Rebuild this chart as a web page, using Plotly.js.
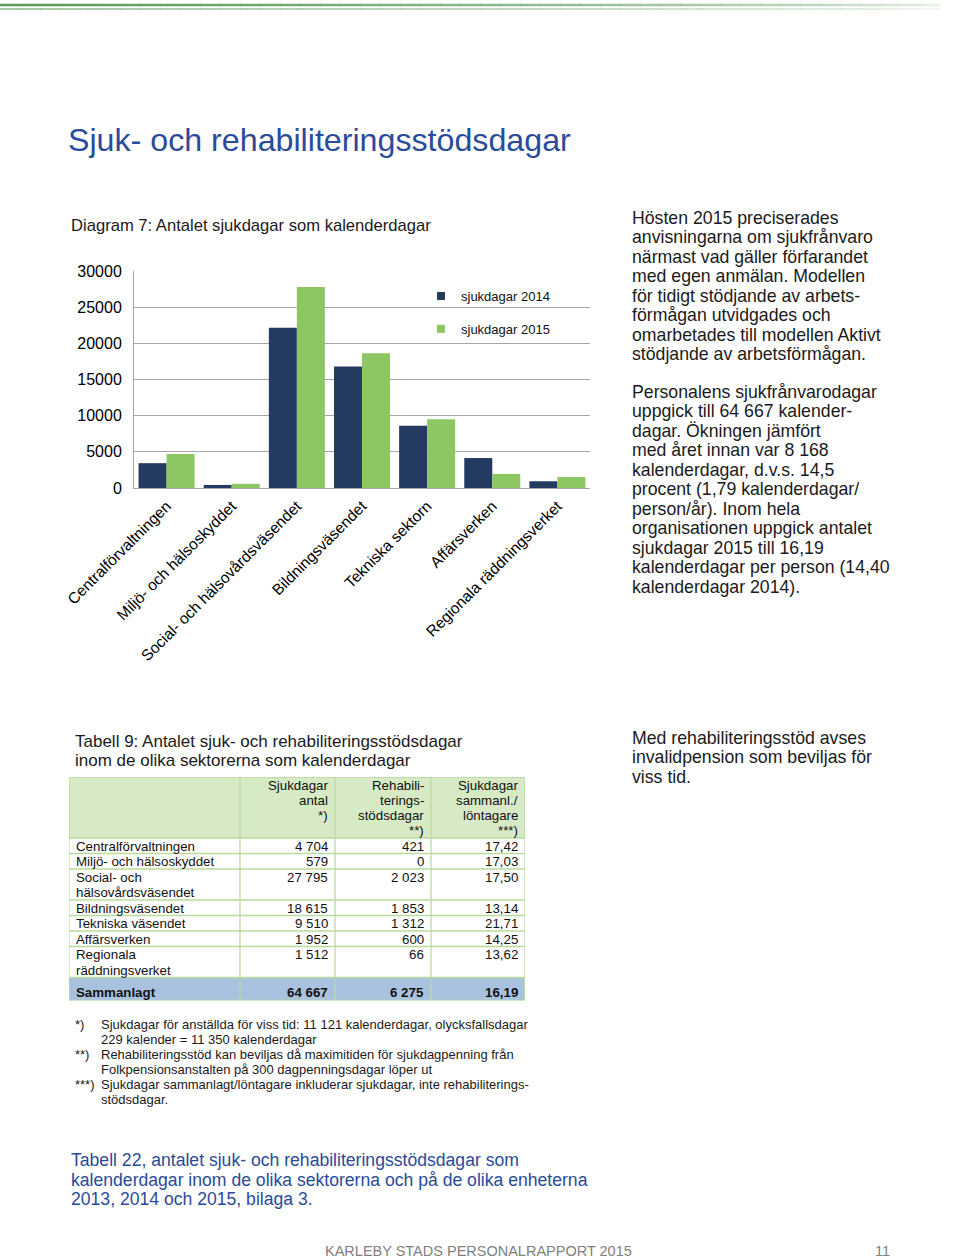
<!DOCTYPE html>
<html><head><meta charset="utf-8">
<script src="https://cdn.plot.ly/plotly-3.0.1.min.js"></script>
<style>html,body{margin:0;padding:0;background:#fff}#chart{width:960px;height:1258px}</style>
</head><body><div id="chart"></div>
<script>
// ---------------- data ----------------
const sectors = ['Centralförvaltningen','Miljö- och hälsoskyddet','Social- och hälsovårdsväsendet','Bildningsväsendet','Tekniska sektorn','Affärsverken','Regionala räddningsverket'];
const sick2014 = [3430, 420, 22150, 16800, 8590, 4140, 930];
const sick2015 = [4704, 579, 27795, 18615, 9510, 1952, 1512];
const seriesNames = ['sjukdagar 2014','sjukdagar 2015'];
const yTickVals = [0, 5000, 10000, 15000, 20000, 25000, 30000];

const tableRowLabels = [['Centralförvaltningen'],['Miljö- och hälsoskyddet'],['Social- och','hälsovårdsväsendet'],['Bildningsväsendet'],['Tekniska väsendet'],['Affärsverken'],['Regionala','räddningsverket']];
const tableSickDays = ['4 704','579','27 795','18 615','9 510','1 952','1 512'];
const tableRehabDays = ['421','0','2 023','1 853','1 312','600','66'];
const tableSickPerEmployee = ['17,42','17,03','17,50','13,14','21,71','14,25','13,62'];
const tableHeaders = [[], ['Sjukdagar','antal','*)'], ['Rehabili-','terings-','stödsdagar','**)'], ['Sjukdagar','sammanl./','löntagare','***)']];
const tableTotal = ['Sammanlagt','64 667','6 275','16,19'];

const pageTitle = 'Sjuk- och rehabiliteringsstödsdagar';
const chartTitle = 'Diagram 7: Antalet sjukdagar som kalenderdagar';
const para1 = ['Hösten 2015 preciserades','anvisningarna om sjukfrånvaro','närmast vad gäller förfarandet','med egen anmälan. Modellen','för tidigt stödjande av arbets-','förmågan utvidgades och','omarbetades till modellen Aktivt','stödjande av arbetsförmågan.'];
const para2 = ['Personalens sjukfrånvarodagar','uppgick till 64 667 kalender-','dagar. Ökningen jämfört','med året innan var 8 168','kalenderdagar, d.v.s. 14,5','procent (1,79 kalenderdagar/','person/år). Inom hela','organisationen uppgick antalet','sjukdagar 2015 till 16,19','kalenderdagar per person (14,40','kalenderdagar 2014).'];
const para3 = ['Med rehabiliteringsstöd avses','invalidpension som beviljas för','viss tid.'];
const tableTitle = ['Tabell 9: Antalet sjuk- och rehabiliteringsstödsdagar','inom de olika sektorerna som kalenderdagar'];
const footMarks = ['*)','','**)','','***)',''];
const footLines = ['Sjukdagar för anställda för viss tid: 11 121 kalenderdagar, olycksfallsdagar','229 kalender = 11 350 kalenderdagar','Rehabiliteringsstöd kan beviljas då maximitiden för sjukdagpenning från','Folkpensionsanstalten på 300 dagpenningsdagar löper ut','Sjukdagar sammanlagt/löntagare inkluderar sjukdagar, inte rehabiliterings-','stödsdagar.'];
const refText = ['Tabell 22, antalet sjuk- och rehabiliteringsstödsdagar som','kalenderdagar inom de olika sektorerna och på de olika enheterna','2013, 2014 och 2015, bilaga 3.'];
const footer = 'KARLEBY STADS PERSONALRAPPORT 2015';
const pageNo = '11';

// ---------------- layout helpers ----------------
const W = 960, H = 1258;
const FONT = 'Liberation Sans, Arial, Helvetica, sans-serif';
const px = v => v / W;
const py = v => 1 - v / H;
const navy = '#243A60', green = '#8DC764';
const blueText = '#2A4B9B', bodyText = '#1a1a1a';

const annotations = [];
const shapes = [];

function lines(arr, x, y0, dy, size, color, extra) {
  arr.forEach((t, i) => {
    if (!t) return;
    annotations.push(Object.assign({
      text: t, xref: 'paper', yref: 'paper', x: px(x), y: py(y0 + i * dy),
      xanchor: 'left', yanchor: 'middle', showarrow: false, borderpad: 0, borderwidth: 0,
      font: {family: FONT, size: size, color: color}
    }, extra || {}));
  });
}

// decorative top rule (fading green)
const SEG = 48;
for (let i = 0; i < SEG; i++) {
  const a = Math.max(0, 1 - i / (SEG - 1));
  shapes.push({type: 'line', xref: 'paper', yref: 'paper', x0: px(i * W / SEG), x1: px((i + 1) * W / SEG + 0.5), y0: py(5), y1: py(5),
    line: {color: `rgba(80,150,80,${(0.95 * Math.sqrt(a)).toFixed(3)})`, width: 2.5}});
  shapes.push({type: 'line', xref: 'paper', yref: 'paper', x0: px(i * W / SEG), x1: px((i + 1) * W / SEG + 0.5), y0: py(9), y1: py(9),
    line: {color: `rgba(110,165,110,${(0.8 * Math.sqrt(a)).toFixed(3)})`, width: 1.5}});
}

// texts
lines([pageTitle], 68, 140, 0, 32.2, blueText);
lines([chartTitle], 71, 225, 0, 16.6, bodyText);
lines(para1, 632, 218, 19.45, 17.7, bodyText);
lines(para2, 632, 392, 19.45, 17.7, bodyText);
lines(para3, 632, 738, 19.45, 17.7, bodyText);
lines(tableTitle, 75, 741, 19.5, 17, bodyText);
lines(footMarks, 75, 1024, 15, 13, bodyText);
lines(footLines, 101, 1024, 15, 13, bodyText);
lines(refText, 71, 1160, 19.5, 17.6, blueText);
lines([footer], 325, 1251, 0, 14.5, '#808080');
lines([pageNo], 875, 1251, 0, 14.5, '#808080');

// ---------------- table geometry (axis x2 / y2 in pixel-like units) ----------------
const colW = [171, 95, 96, 94];
const colX = [0]; colW.forEach(w => colX.push(colX[colX.length - 1] + w));
const LINE_H = 15.5, HEAD_LINE_H = 15.1, PAD_TOP = 8, TOTAL_H = 23;
const headH = 4 * HEAD_LINE_H + 0.6;
const rowTops = [headH];
tableRowLabels.forEach(r => rowTops.push(rowTops[rowTops.length - 1] + r.length * LINE_H));
const totalTop = rowTops[rowTops.length - 1];
const tableH = totalTop + TOTAL_H;
const tableLeft = 69, tableTop = 777;
const tableW = colX[colX.length - 1];

const TXT = 13.3, tableLine = '#B8DB9E';
shapes.push({type: 'rect', xref: 'x2', yref: 'y2', x0: 0, x1: tableW, y0: 0, y1: headH, fillcolor: '#D6EAC5', line: {width: 0}, layer: 'below'});
shapes.push({type: 'rect', xref: 'x2', yref: 'y2', x0: 0, x1: tableW, y0: totalTop, y1: tableH, fillcolor: '#A9C2E0', line: {width: 0}, layer: 'below'});
[0, headH].concat(rowTops.slice(1), [tableH]).forEach(y => shapes.push({type: 'line', xref: 'x2', yref: 'y2', x0: 0, x1: tableW, y0: y, y1: y, line: {color: tableLine, width: 1.3}}));
colX.forEach(x => shapes.push({type: 'line', xref: 'x2', yref: 'y2', x0: x, x1: x, y0: 0, y1: tableH, line: {color: tableLine, width: 1.3}}));

function cellText(t, col, y, bold) {
  const right = col > 0;
  annotations.push({text: bold ? '<b>' + t + '</b>' : t, xref: 'x2', yref: 'y2',
    x: right ? colX[col + 1] - 7.5 : colX[col] + 7, y: y,
    xanchor: right ? 'right' : 'left', yanchor: 'middle', showarrow: false, borderpad: 0, borderwidth: 0,
    font: {family: FONT, size: TXT, color: '#111'}});
}
tableHeaders.forEach((h, c) => h.forEach((t, i) => cellText(t, c, PAD_TOP + i * HEAD_LINE_H)));
tableRowLabels.forEach((lab, r) => {
  const top = rowTops[r];
  lab.forEach((t, i) => cellText(t, 0, top + PAD_TOP + i * LINE_H));
  cellText(tableSickDays[r], 1, top + PAD_TOP);
  cellText(tableRehabDays[r], 2, top + PAD_TOP);
  cellText(tableSickPerEmployee[r], 3, top + PAD_TOP);
});
tableTotal.forEach((t, c) => cellText(t, c, totalTop + TOTAL_H / 2 + 3, true));

// ---------------- traces ----------------
const traces = [
  {type: 'bar', x: sectors, y: sick2014, name: seriesNames[0], marker: {color: navy}, showlegend: false, hoverinfo: 'x+y'},
  {type: 'bar', x: sectors, y: sick2015, name: seriesNames[1], marker: {color: green}, showlegend: false, hoverinfo: 'x+y'},
  // legend entries (small square keys like the original)
  {type: 'scatter', x: [null], y: [null], mode: 'markers', name: seriesNames[0], marker: {symbol: 'square', size: 8, color: navy}, legendgroup: 'a'},
  {type: 'scatter', x: [null], y: [null], mode: 'markers', name: seriesNames[1], marker: {symbol: 'square', size: 8, color: green}, legendgroup: 'b'},
  {type: 'scatter', x: [0], y: [0], xaxis: 'x2', yaxis: 'y2', mode: 'markers', marker: {size: 1, color: 'rgba(0,0,0,0)'}, showlegend: false, hoverinfo: 'skip'}
];

const layout = {
  width: W, height: H,
  margin: {l: 0, r: 0, t: 0, b: 0},
  paper_bgcolor: '#fff', plot_bgcolor: 'rgba(0,0,0,0)',
  font: {family: FONT, color: '#000'},
  showlegend: true,
  barmode: 'group', bargap: 0.14, bargroupgap: 0,
  xaxis: {domain: [px(134), px(590)], type: 'category', tickangle: -45, automargin: false,
    tickfont: {family: FONT, size: 15.5, color: '#000'}, showgrid: false, showline: true,
    linecolor: '#A6A6A6', linewidth: 1, ticks: '', ticklabelstandoff: 2, fixedrange: true},
  yaxis: {domain: [py(488), py(271)], range: [0, 30000], tickvals: yTickVals, ticktext: yTickVals.map(String),
    showgrid: true, gridcolor: '#A6A6A6', gridwidth: 1, zeroline: true, zerolinecolor: '#A6A6A6',
    showline: true, linecolor: '#A6A6A6', linewidth: 1, ticks: '', ticklabelstandoff: 8, automargin: false,
    tickfont: {family: FONT, size: 16, color: '#000'}, fixedrange: true},
  xaxis2: {domain: [px(tableLeft), px(tableLeft + tableW)], range: [0, tableW], visible: false, anchor: 'y2', fixedrange: true},
  yaxis2: {domain: [py(tableTop + tableH), py(tableTop)], range: [tableH, 0], visible: false, anchor: 'x2', fixedrange: true},
  legend: {x: px(421), y: py(281), xanchor: 'left', yanchor: 'top', bgcolor: 'rgba(0,0,0,0)', itemwidth: 30,
    font: {family: FONT, size: 13, color: '#111'}, traceorder: 'grouped', tracegroupgap: 13, itemclick: false, itemdoubleclick: false},
  annotations: annotations,
  shapes: shapes
};

Plotly.newPlot('chart', traces, layout, {displayModeBar: false, staticPlot: true});
</script>
</body></html>
